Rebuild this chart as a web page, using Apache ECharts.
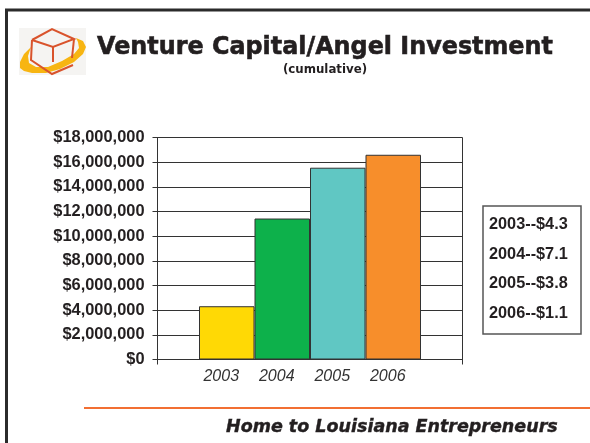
<!DOCTYPE html>
<html>
<head>
<meta charset="utf-8">
<title>Venture Capital/Angel Investment</title>
<script src="https://cdn.jsdelivr.net/npm/echarts@6/dist/echarts.min.js"></script>
<style>
html, body { margin: 0; padding: 0; background: #fff; }
#chart { width: 590px; height: 443px; }
</style>
</head>
<body>
<div id="chart"></div>
<script>
// values
var years = ["2003", "2004", "2005", "2006"];
var cumulative = [4320000, 11430000, 15550000, 16600000];
var yearAdded = ["$4.3", "$7.1", "$3.8", "$1.1"];
var barColors = ["#ffd905", "#0db14b", "#60c7c3", "#f78e2b"];
var yTicks = { min: 0, max: 18000000, interval: 2000000 };

var titleText = "Venture Capital/Angel Investment";
var subtitleText = "(cumulative)";
var footerText = "Home to Louisiana Entrepreneurs";

var dark = "#231f20";
var labelFont = '"Liberation Sans", Arial, sans-serif';
var slideFont = '"DejaVu Sans", Tahoma, sans-serif';

function money(v) {
  return "$" + String(v).replace(/\B(?=(\d{3})+$)/g, ",");
}

// text box on the right, one row per year
var boxRows = years.map(function(y, i) {
  return {
    type: "text",
    x: 489,
    y: 225 + i * 29.4,
    style: {
      text: y + "--" + yearAdded[i],
      font: "bold 16.3px " + labelFont,
      fill: dark,
      textVerticalAlign: "middle"
    }
  };
});

// logo, a cube inside a yellow swoosh
var logo = [
  { type: "rect", shape: { x: 19, y: 28, width: 67, height: 47 }, style: { fill: "#f5f4f2" } },
  { type: "polygon", shape: { points: [[20, 68], [20, 62], [24, 54], [31, 47], [28, 56], [29, 63], [36, 67], [48, 67], [62, 61], [74, 54], [79, 48], [78, 42], [76, 38], [83, 41], [86, 47], [83, 54], [74, 62], [60, 69], [46, 73], [32, 73], [24, 71]] }, style: { fill: "#f7b512" } },
  { type: "polyline", shape: { points: [[32, 40], [52, 29], [74, 39], [53, 47], [32, 40]] }, style: { fill: "none", stroke: "#d9532c", lineWidth: 2 } },
  { type: "polyline", shape: { points: [[32, 40], [31, 60], [52, 74], [73, 65]] }, style: { fill: "none", stroke: "#d9532c", lineWidth: 2 } },
  { type: "line", shape: { x1: 74, y1: 39, x2: 72, y2: 58 }, style: { stroke: "#d9532c", lineWidth: 2 } },
  { type: "line", shape: { x1: 53, y1: 47, x2: 53, y2: 62 }, style: { stroke: "#d9532c", lineWidth: 2 } }
];

var slide = [
  // slide frame
  { type: "line", shape: { x1: 5, y1: 10, x2: 590, y2: 10 }, style: { stroke: "#2b2b2b", lineWidth: 3 } },
  { type: "line", shape: { x1: 6.5, y1: 9, x2: 6.5, y2: 443 }, style: { stroke: "#2b2b2b", lineWidth: 3 } },
  { type: "text", x: 97, y: 47, scaleX: 0.954, style: { text: titleText, font: "bold 25px " + slideFont, fill: dark, stroke: dark, lineWidth: 0.6, textVerticalAlign: "middle" } },
  { type: "text", x: 325, y: 70, style: { text: subtitleText, font: "bold 11.8px " + slideFont, fill: dark, textAlign: "center", textVerticalAlign: "middle" } },
  { type: "rect", shape: { x: 483, y: 206, width: 98, height: 128 }, style: { fill: "#fff", stroke: "#555", lineWidth: 1.5 } },
  { type: "line", shape: { x1: 84, y1: 408, x2: 590, y2: 408 }, style: { stroke: "#f26f33", lineWidth: 2 } },
  { type: "text", x: 226, y: 427, style: { text: footerText, font: "italic bold 17.5px " + slideFont, fill: dark, stroke: dark, lineWidth: 0.4, textVerticalAlign: "middle" } }
];

var myChart = echarts.init(document.getElementById("chart"), null, { renderer: "canvas" });

var option = {
  animation: false,
  backgroundColor: "#fff",
  // first grid carries the frame and the scale, second one the touching bars
  grid: [
    { left: 157.5, top: 137.5, width: 305, height: 222, containLabel: false },
    { left: 199, top: 137.5, width: 222, height: 222, containLabel: false }
  ],
  xAxis: [
    {
      type: "value",
      gridIndex: 0,
      min: 0,
      max: 1,
      interval: 1,
      axisLine: { show: true, lineStyle: { color: "#333", width: 1 } },
      axisTick: { show: true, length: 5, lineStyle: { color: "#333" } },
      axisLabel: { show: false },
      splitLine: { show: true, lineStyle: { color: "#333", width: 1 } }
    },
    {
      type: "category",
      gridIndex: 1,
      data: years,
      axisLine: { show: false },
      axisTick: { show: false },
      axisLabel: {
        margin: 9,
        padding: [0, 11, 0, 0],
        fontFamily: labelFont,
        fontStyle: "italic",
        fontSize: 16,
        color: "#333"
      }
    }
  ],
  yAxis: [
    {
      type: "value",
      gridIndex: 0,
      min: yTicks.min,
      max: yTicks.max,
      interval: yTicks.interval,
      axisLine: { show: true, lineStyle: { color: "#333", width: 1 } },
      axisTick: { show: true, length: 5, lineStyle: { color: "#333" } },
      axisLabel: {
        margin: 13,
        padding: [2, 0, 0, 0],
        fontFamily: labelFont,
        fontWeight: "bold",
        fontSize: 16.4,
        color: dark,
        formatter: money
      },
      splitLine: { show: true, lineStyle: { color: "#333", width: 1 } }
    },
    {
      type: "value",
      gridIndex: 1,
      min: yTicks.min,
      max: yTicks.max,
      interval: yTicks.interval,
      show: false
    }
  ],
  series: [
    {
      type: "bar",
      xAxisIndex: 1,
      yAxisIndex: 1,
      barWidth: "100%",
      z: 3,
      itemStyle: { borderColor: "#333", borderWidth: 1 },
      data: cumulative.map(function(v, i) {
        return { value: v, itemStyle: { color: barColors[i] } };
      })
    }
  ],
  graphic: { elements: slide.concat(logo, boxRows) }
};

myChart.setOption(option);
</script>
</body>
</html>
